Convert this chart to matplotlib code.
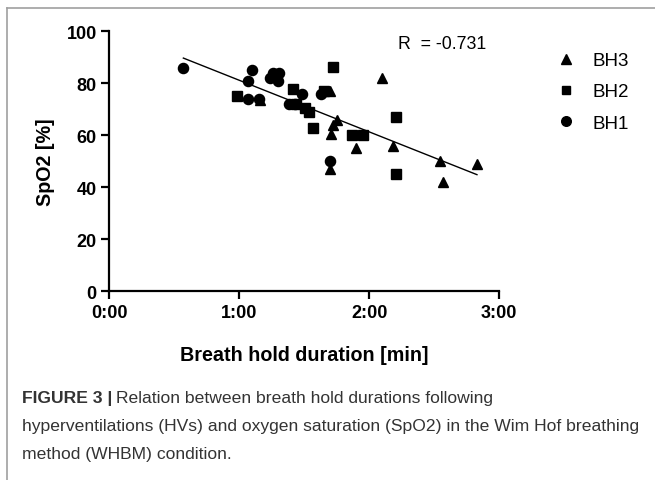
import matplotlib
matplotlib.use("Agg")
import matplotlib.pyplot as plt
from matplotlib.lines import Line2D
from matplotlib.ticker import FuncFormatter

plt.rcParams['font.family'] = ['Liberation Sans', 'DejaVu Sans']

# breath hold duration in minutes, SpO2 in %
bh1_x = [0.565, 1.07, 1.10, 1.07, 1.15, 1.24, 1.26, 1.31, 1.30, 1.38, 1.43, 1.485, 1.63, 1.70]
bh1_y = [86, 81, 85, 74, 74, 82, 84, 84, 81, 72, 72, 75.8, 76, 50]

bh2_x = [0.98, 1.415, 1.44, 1.505, 1.535, 1.565, 1.654, 1.718, 1.87, 1.955, 2.203, 2.203]
bh2_y = [75, 78, 72, 70.5, 69, 63, 77.2, 86.2, 60, 60, 67, 45]

bh3_x = [1.16, 1.70, 1.75, 1.718, 1.705, 1.698, 1.898, 2.10, 2.18, 2.544, 2.57, 2.83]
bh3_y = [73.4, 77.2, 66, 64, 60.5, 47, 55, 82, 56, 50, 42, 49]

# regression line end points
fit_x = [0.57, 2.83]
fit_y = [89.7, 44.9]
r_text = "R  = -0.731"

x_ticks = [0, 1, 2, 3]
y_ticks = [0, 20, 40, 60, 80, 100]

fig = plt.figure(figsize=(6.55, 4.81), dpi=100)
ax = fig.add_axes([0.1669, 0.3919, 0.595, 0.541])

ms = 7.3
ax.plot(bh3_x, bh3_y, '^', color='black', markersize=ms, clip_on=False, label='BH3')
ax.plot(bh2_x, bh2_y, 's', color='black', markersize=ms - 0.5, clip_on=False, label='BH2')
ax.plot(bh1_x, bh1_y, 'o', color='black', markersize=ms, clip_on=False, label='BH1')
ax.plot(fit_x, fit_y, '-', color='black', linewidth=1.0)

ax.text(2.22, 95.2, r_text, fontsize=12.8, va='center', ha='left')

ax.set_xlim(0, 3)
ax.set_ylim(0, 100)
ax.set_xticks(x_ticks)
ax.set_yticks(y_ticks)
ax.xaxis.set_major_formatter(FuncFormatter(lambda v, p: f"{int(v)}:00"))
for s in ['top', 'right']:
    ax.spines[s].set_visible(False)
for s in ['left', 'bottom']:
    ax.spines[s].set_linewidth(1.6)
ax.tick_params(axis='both', width=1.6, length=6, labelsize=13, pad=3)
for lab in ax.get_xticklabels() + ax.get_yticklabels():
    lab.set_fontweight('bold')

ax.set_xlabel('Breath hold duration [min]', fontsize=14.2, fontweight='bold', labelpad=17)
ax.set_ylabel('SpO2 [%]', fontsize=14.2, fontweight='bold', labelpad=8)

leg = ax.legend(loc='upper left', bbox_to_anchor=(1.105, 0.985), frameon=False,
                fontsize=13.5, handletextpad=0.9, labelspacing=0.75, handlelength=1.0,
                markerscale=0.95)

# thin grey frame of the figure panel
fig.add_artist(Line2D([7 / 655, 1], [1 - 9 / 481, 1 - 9 / 481], color='#a0a0a0', linewidth=1.2))
fig.add_artist(Line2D([7 / 655, 7 / 655], [0, 1 - 9 / 481], color='#a0a0a0', linewidth=1.2))

# caption
cap_color = '#333333'
cap_size = 12.6
x0 = 22 / 655
t1 = fig.text(x0, 1 - 399 / 481, 'FIGURE 3 |', fontsize=cap_size, fontweight='bold',
              color=cap_color, va='center')
fig.canvas.draw()
bb = t1.get_window_extent()
fig.text((bb.x1 + 4) / 655, 1 - 399 / 481,
         'Relation between breath hold durations following', fontsize=cap_size,
         color=cap_color, va='center')
fig.text(x0, 1 - 427 / 481,
         'hyperventilations (HVs) and oxygen saturation (SpO2) in the Wim Hof breathing',
         fontsize=cap_size, color=cap_color, va='center')
fig.text(x0, 1 - 455 / 481, 'method (WHBM) condition.', fontsize=cap_size,
         color=cap_color, va='center')

fig.savefig('out.png', dpi=100)
